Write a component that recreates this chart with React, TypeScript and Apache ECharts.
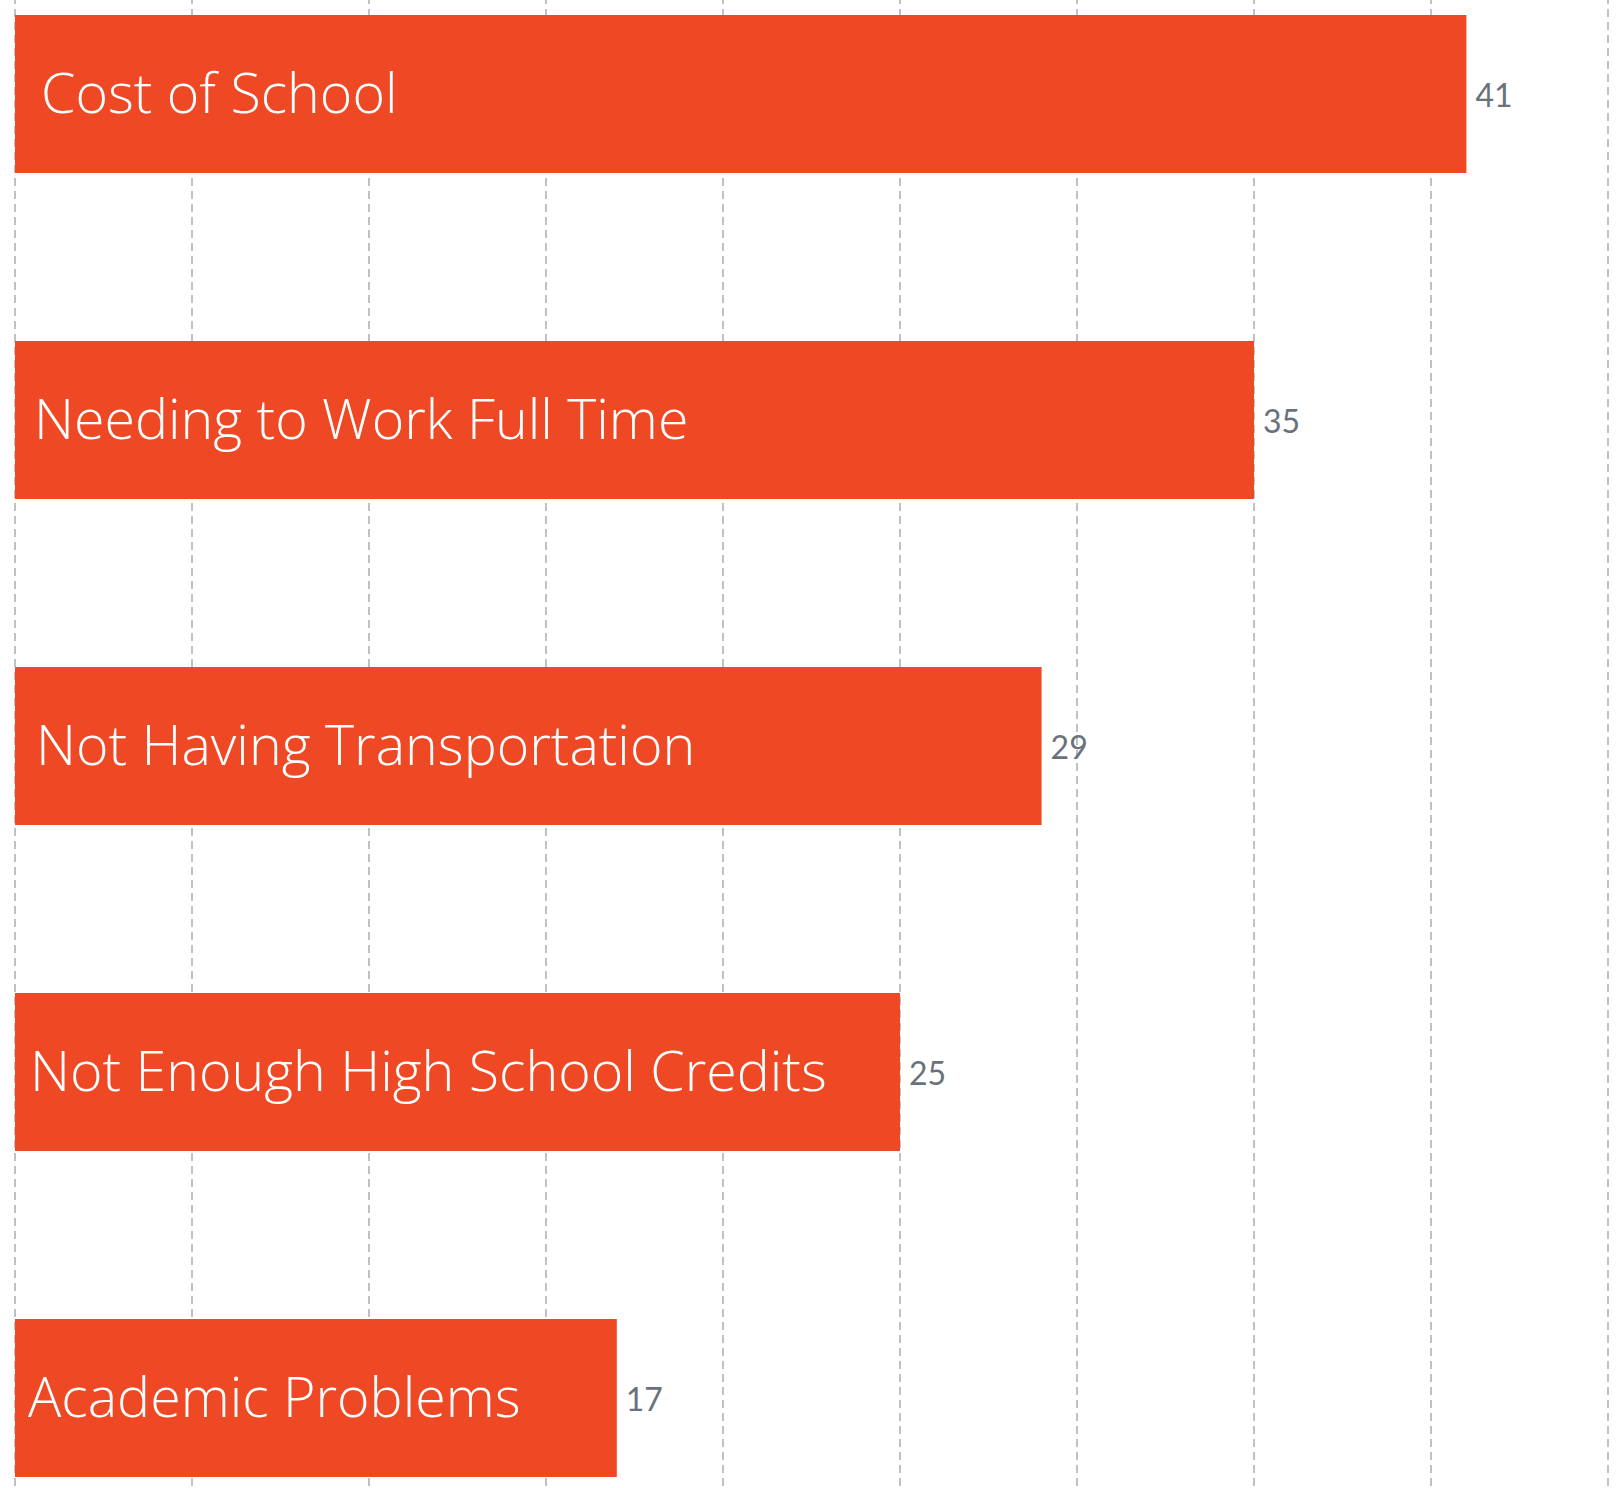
import React, { useEffect, useRef } from "react";
import * as echarts from "echarts";

const categories = [
  "Cost of School",
  "Needing to Work Full Time",
  "Not Having Transportation",
  "Not Enough High School Credits",
  "Academic Problems",
];
const values = [41, 35, 29, 25, 17];
const labelInset = [26, 19, 21, 15, 13];
const axisMax = 45;
const axisInterval = 5;

export default function App() {
  const ref = useRef<HTMLDivElement>(null);
  useEffect(() => {
    document.body.style.margin = "0";
    document.body.style.overflow = "hidden";
    document.documentElement.style.overflow = "hidden";
    const chart = echarts.init(ref.current!, null, { renderer: "svg" });
    chart.setOption({
      animation: false,
      backgroundColor: "#ffffff",
      grid: { left: 15, width: 1593, top: 0, bottom: 0, containLabel: false },
      xAxis: {
        type: "value",
        min: 0,
        max: axisMax,
        interval: axisInterval,
        axisLabel: { show: false },
        axisLine: { show: false },
        axisTick: { show: false },
        splitLine: {
          show: true,
          lineStyle: { color: "#bfc1c4", width: 2, type: [8, 5] },
        },
      },
      yAxis: {
        type: "category",
        inverse: true,
        data: categories,
        axisLabel: { show: false },
        axisLine: { show: false },
        axisTick: { show: false },
        splitLine: { show: false },
      },
      series: [
        {
          type: "bar",
          barCategoryGap: "51.5%",
          itemStyle: { color: "#ef4824" },
          data: values.map((v, i) => ({
            value: v,
            label: {
              show: true,
              position: "insideLeft",
              distance: labelInset[i],
              offset: [0, -3],
              formatter: categories[i],
              color: "#ffffff",
              fontFamily: "Open Sans",
              fontWeight: 300,
              fontSize: 55.5,
            },
          })),
          z: 3,
        },
        {
          type: "bar",
          barGap: "-100%",
          barCategoryGap: "51.5%",
          itemStyle: { color: "rgba(0,0,0,0)" },
          silent: true,
          data: values,
          label: {
            show: true,
            position: "right",
            distance: 9,
            color: "#69727b",
            fontFamily: "Lato",
            fontSize: 32,
          },
          z: 2,
        },
      ],
    });
    return () => chart.dispose();
  }, []);
  return (
    <div style={{ position: "relative", width: 1623, height: 1488, overflow: "hidden", background: "#fff" }}>
      <div ref={ref} style={{ position: "absolute", left: 0, top: -69, width: 1623, height: 1630 }} />
    </div>
  );
}
